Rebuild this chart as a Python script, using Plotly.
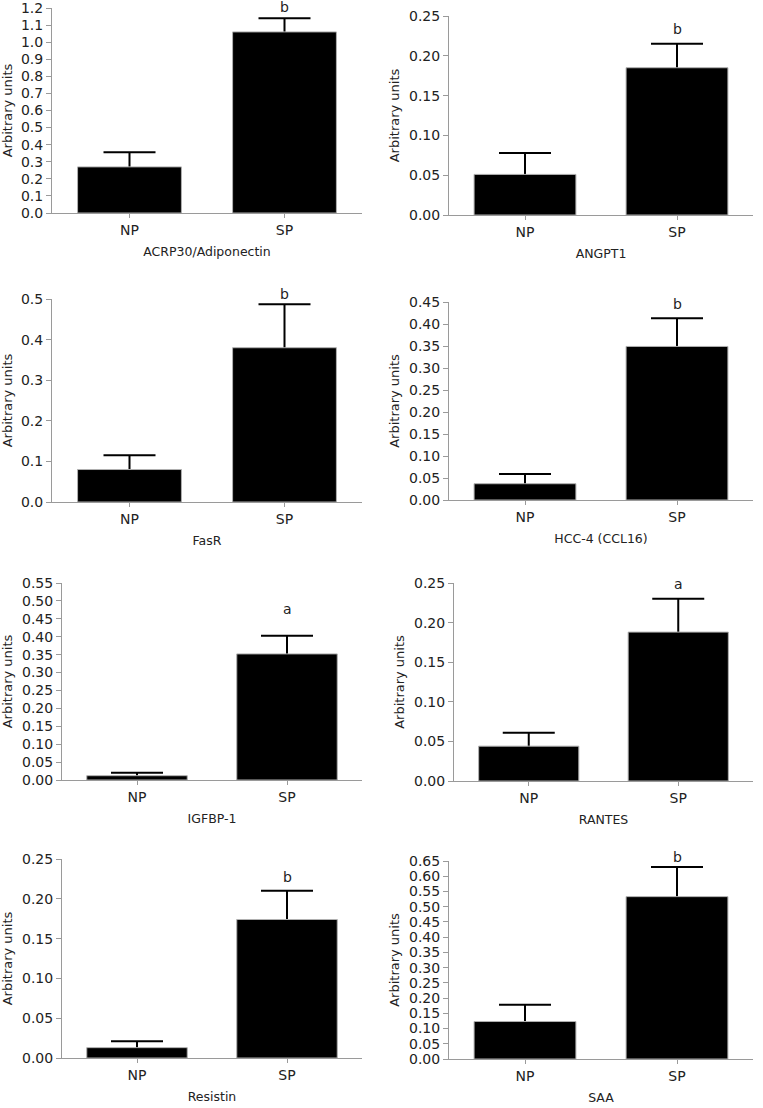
import plotly.graph_objects as go

W, H = 763, 1108

categories = ["NP", "SP"]
titles = ["ACRP30/Adiponectin", "ANGPT1", "FasR", "HCC-4 (CCL16)",
          "IGFBP-1", "RANTES", "Resistin", "SAA"]
np_mean = [0.27, 0.051, 0.080, 0.037, 0.012, 0.044, 0.013, 0.123]
sp_mean = [1.06, 0.185, 0.380, 0.349, 0.352, 0.188, 0.174, 0.533]
np_err = [0.085, 0.027, 0.035, 0.022, 0.008, 0.017, 0.008, 0.055]
sp_err = [0.08, 0.030, 0.107, 0.064, 0.051, 0.042, 0.036, 0.097]
sig_letters = ["b", "b", "b", "b", "a", "a", "b", "b"]
y_max = [1.2, 0.25, 0.5, 0.45, 0.55, 0.25, 0.25, 0.65]
y_step = [0.1, 0.05, 0.1, 0.05, 0.05, 0.05, 0.05, 0.05]
y_fmt = [".1f", ".2f", ".1f", ".2f", ".2f", ".2f", ".2f", ".2f"]

# pixel boxes for each panel: (x0, x1, ytop, ybottom)
boxes = [(52, 362, 8, 213), (449, 753, 16, 215),
         (52, 362, 299, 502), (449, 753, 302, 500),
         (62, 362, 583, 780), (454, 753, 583, 781),
         (62, 362, 859, 1058), (449, 753, 861, 1059)]
letter_shift = [1, 5, 0, 4, 17, 5, 4, 0]

FONT = "DejaVu Sans"
TXT = "#222222"
AX = "#9a9a9a"

fig = go.Figure()
layout = dict(width=W, height=H, margin=dict(l=0, r=0, t=0, b=0),
              paper_bgcolor="white", plot_bgcolor="white", showlegend=False,
              barmode="overlay",
              font=dict(family=FONT, color=TXT, size=13), annotations=[])

for i in range(8):
    x0, x1, yt, yb = boxes[i]
    xa = "x" if i == 0 else f"x{i+1}"
    ya = "y" if i == 0 else f"y{i+1}"
    means = [np_mean[i], sp_mean[i]]
    errs = [np_err[i], sp_err[i]]
    # error bars (lower half hidden behind the bars drawn next)
    fig.add_trace(go.Bar(
        x=categories, y=means, xaxis=xa, yaxis=ya, width=0.67,
        marker=dict(color="rgba(0,0,0,0)", line=dict(width=0)),
        error_y=dict(type="data", array=errs, color="black", thickness=2, width=26),
        hoverinfo="skip",
    ))
    fig.add_trace(go.Bar(
        x=categories, y=means, xaxis=xa, yaxis=ya, width=0.67,
        marker=dict(color="black", line=dict(color="#b0b0b0", width=1)),
    ))
    xkey = "xaxis" if i == 0 else f"xaxis{i+1}"
    ykey = "yaxis" if i == 0 else f"yaxis{i+1}"
    layout[xkey] = dict(domain=[x0 / W, x1 / W], anchor=ya, range=[-0.5, 1.5],
                        automargin=False, ticklabeloverflow="allow",
                        showline=True, linecolor=AX, linewidth=1,
                        ticks="outside", ticklen=4, tickcolor=AX,
                        showgrid=False, zeroline=False,
                        tickfont=dict(size=14, color=TXT),
                        title=dict(text=titles[i], font=dict(size=12.5, color=TXT), standoff=10))
    nt = int(round(y_max[i] / y_step[i]))
    tv = [round(k * y_step[i], 3) for k in range(nt + 1)]
    layout[ykey] = dict(domain=[1 - yb / H, 1 - yt / H], anchor=xa, range=[0, y_max[i]],
                        automargin=False, ticklabeloverflow="allow",
                        showline=True, linecolor=AX, linewidth=1,
                        ticks="outside", ticklen=5, tickcolor=AX,
                        tickvals=tv, ticktext=[format(v, y_fmt[i]) for v in tv],
                        showgrid=False, zeroline=False,
                        tickfont=dict(size=14, color=TXT),
                        title=dict(text="Arbitrary units", font=dict(size=13, color=TXT), standoff=6))
    layout["annotations"].append(dict(
        x="SP", y=sp_mean[i] + sp_err[i], xref=xa, yref=ya, text=sig_letters[i],
        showarrow=False, yanchor="bottom", yshift=letter_shift[i],
        font=dict(size=14, color=TXT)))

fig.update_layout(**layout)
fig.write_html("out.html", config={"displayModeBar": False},
               post_script="document.body.style.margin='0px';")
